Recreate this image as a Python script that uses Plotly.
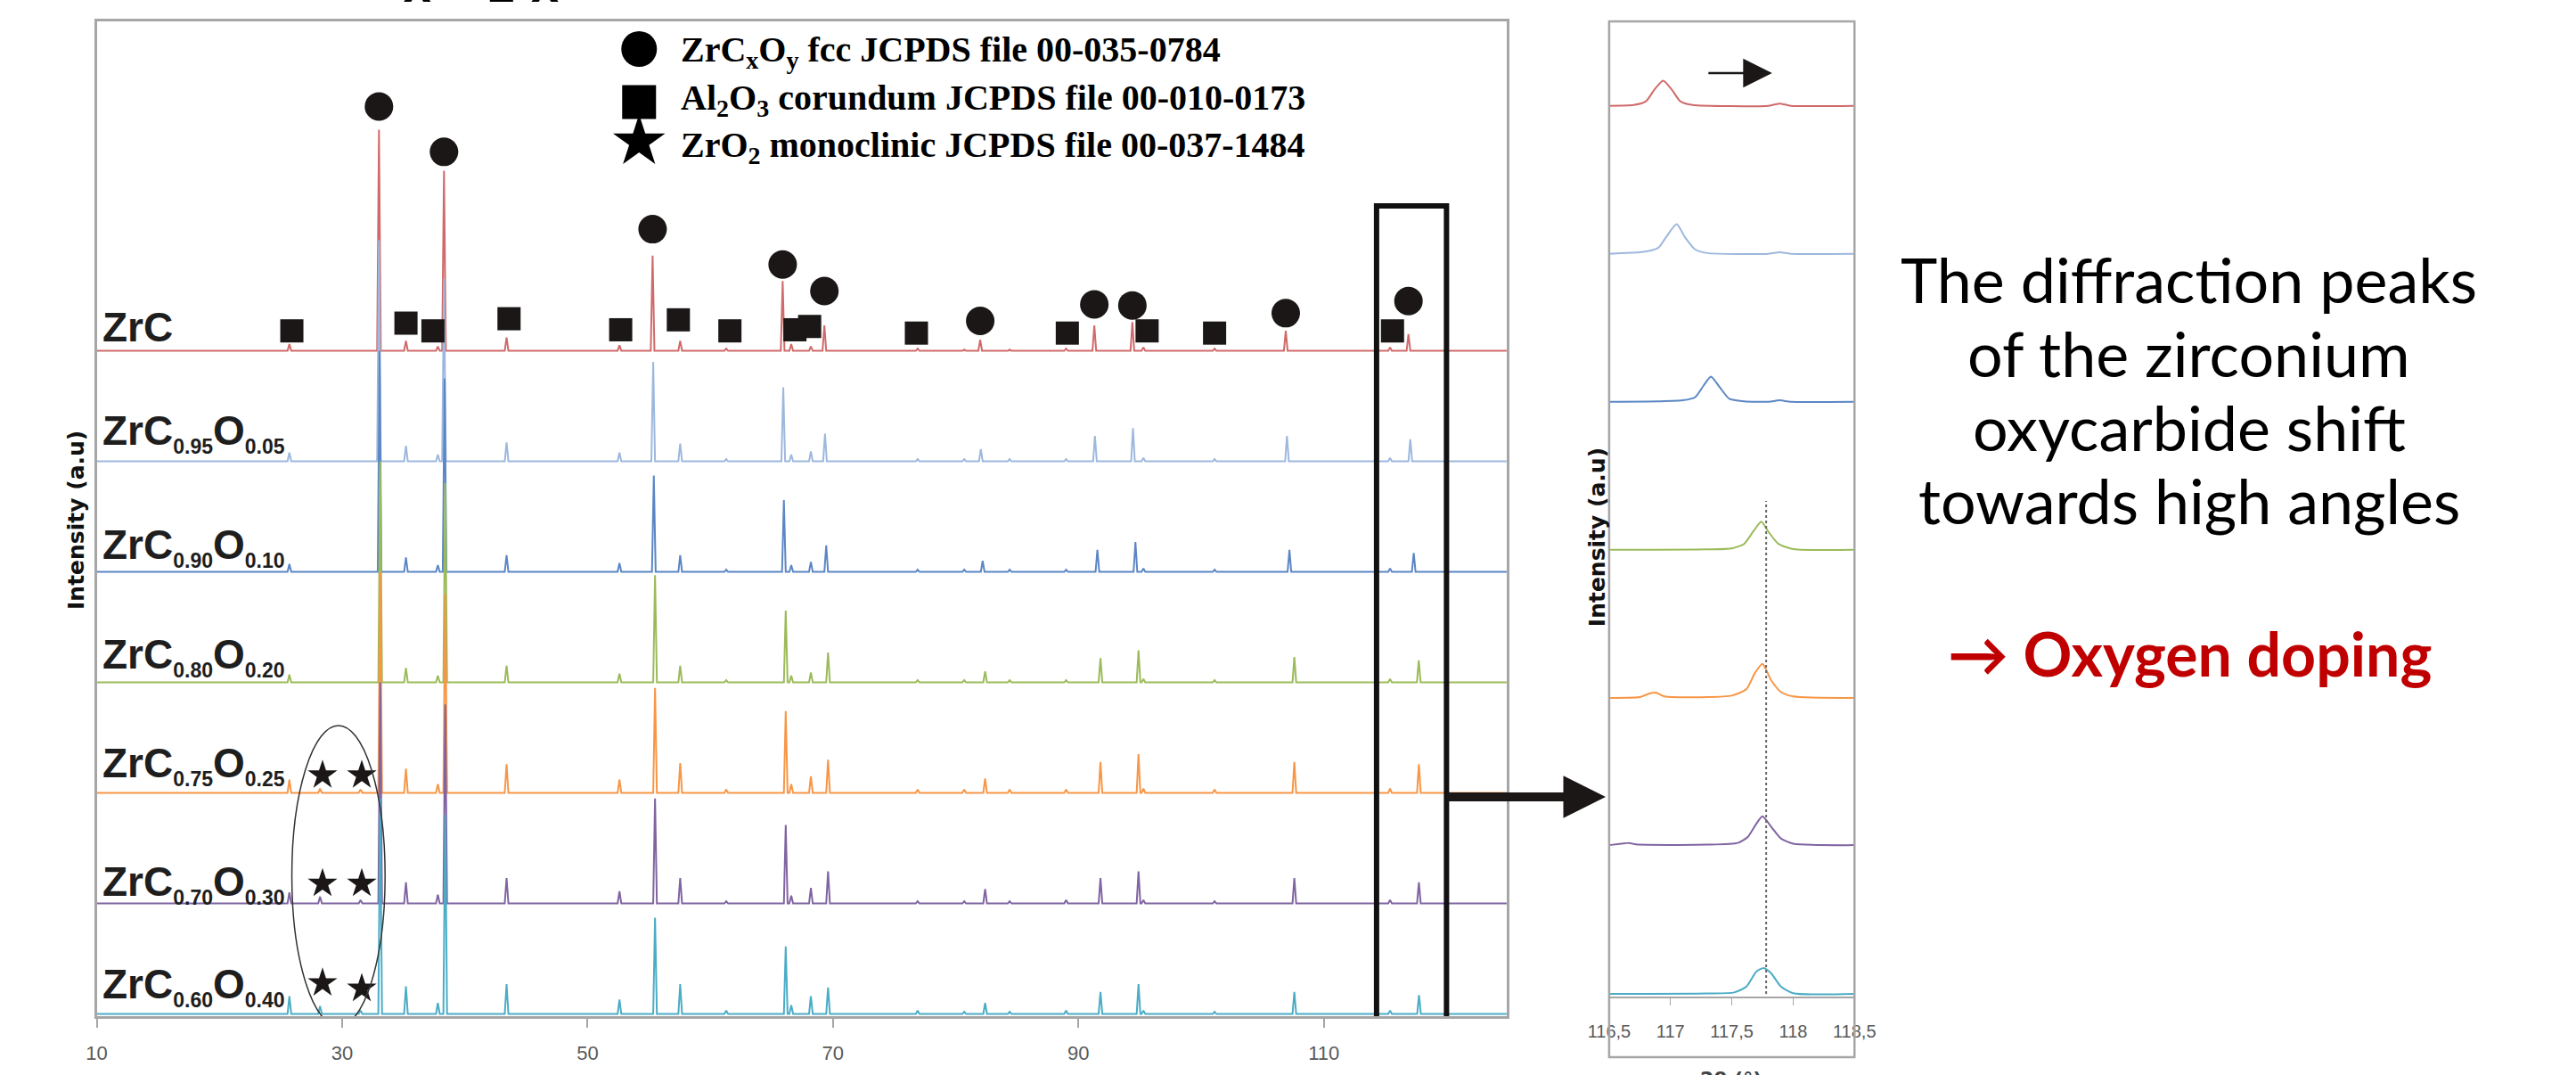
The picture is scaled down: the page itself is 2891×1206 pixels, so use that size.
import plotly.graph_objects as go

W, H = 2891, 1206

# ---------------- data ----------------
label_c = ["", "0.95", "0.90", "0.80", "0.75", "0.70", "0.60"]
label_o = ["", "0.05", "0.10", "0.20", "0.25", "0.30", "0.40"]
series_offset = [6, 5, 4, 3, 2, 1, 0]
series_colors = ["#D06A6A", "#9DB8DE", "#5B86C5", "#9BBB59", "#F79646", "#8064A2", "#4BACC6"]

# ZrCxOy fcc reflections (2theta) per sample, and their heights (a.u.)
fcc_positions = [
    [33.0, 38.3, 55.3, 65.9, 69.3, 82.0, 91.3, 94.4, 106.9, 116.9],
    [33.0, 38.3, 55.35, 65.95, 69.35, 82.05, 91.35, 94.45, 107.0, 117.05],
    [33.05, 38.35, 55.4, 66.0, 69.45, 82.2, 91.55, 94.65, 107.2, 117.33],
    [33.1, 38.4, 55.5, 66.15, 69.6, 82.4, 91.8, 94.9, 107.6, 117.74],
    [33.1, 38.4, 55.5, 66.15, 69.6, 82.4, 91.8, 94.9, 107.6, 117.75],
    [33.1, 38.4, 55.5, 66.15, 69.6, 82.4, 91.8, 94.9, 107.6, 117.75],
    [33.1, 38.4, 55.5, 66.15, 69.6, 82.4, 91.8, 94.9, 107.6, 117.76],
]
fcc_heights = [
    [2.0, 1.63, 0.86, 0.63, 0.23, 0.10, 0.23, 0.26, 0.18, 0.15],
    [2.0, 1.65, 0.90, 0.67, 0.25, 0.11, 0.23, 0.30, 0.23, 0.20],
    [2.0, 1.75, 0.87, 0.65, 0.24, 0.10, 0.20, 0.27, 0.20, 0.17],
    [2.0, 1.80, 0.97, 0.65, 0.27, 0.10, 0.22, 0.29, 0.23, 0.20],
    [2.0, 1.80, 0.95, 0.74, 0.30, 0.13, 0.28, 0.35, 0.28, 0.26],
    [2.0, 1.80, 0.95, 0.71, 0.29, 0.13, 0.23, 0.29, 0.23, 0.19],
    [1.95, 1.80, 0.87, 0.61, 0.24, 0.10, 0.20, 0.27, 0.20, 0.17],
]
# Al2O3 corundum reflections
al2o3_positions = [25.7, 35.2, 37.8, 43.4, 52.6, 57.55, 61.3, 66.6, 68.2, 76.9, 80.7, 84.4, 89.0, 95.3, 101.1, 115.4]
al2o3_heights = [
    [0.06, 0.09, 0.04, 0.12, 0.05, 0.09, 0.02, 0.06, 0.04, 0.02, 0.01, 0.01, 0.02, 0.03, 0.02, 0.03],
    [0.08, 0.14, 0.06, 0.17, 0.08, 0.16, 0.02, 0.06, 0.09, 0.02, 0.02, 0.02, 0.02, 0.03, 0.02, 0.03],
    [0.07, 0.13, 0.06, 0.15, 0.08, 0.15, 0.02, 0.06, 0.09, 0.02, 0.02, 0.02, 0.02, 0.03, 0.02, 0.03],
    [0.07, 0.13, 0.06, 0.15, 0.08, 0.15, 0.02, 0.06, 0.09, 0.02, 0.02, 0.02, 0.02, 0.03, 0.02, 0.03],
    [0.12, 0.22, 0.08, 0.26, 0.12, 0.27, 0.03, 0.08, 0.15, 0.03, 0.03, 0.03, 0.03, 0.04, 0.03, 0.04],
    [0.10, 0.19, 0.08, 0.23, 0.11, 0.23, 0.02, 0.07, 0.14, 0.02, 0.02, 0.02, 0.03, 0.03, 0.02, 0.03],
    [0.16, 0.25, 0.10, 0.27, 0.13, 0.27, 0.03, 0.08, 0.16, 0.03, 0.02, 0.02, 0.03, 0.03, 0.02, 0.03],
]
# ZrO2 monoclinic reflections
zro2_positions = [28.2, 31.5]
zro2_heights = [[0, 0], [0, 0], [0, 0], [0, 0], [0.04, 0.03], [0.06, 0.03], [0.07, 0.03]]

# phase markers
circle_x = [33.0, 38.3, 55.3, 65.9, 69.3, 82.0, 91.3, 94.4, 106.9, 116.9]
circle_y = [8.21, 7.80, 7.10, 6.78, 6.54, 6.27, 6.42, 6.41, 6.34, 6.45]
square_x = [25.9, 35.2, 37.4, 43.6, 52.7, 57.4, 61.6, 66.9, 68.1, 76.8, 89.1, 95.6, 101.1, 115.6]
square_y = [6.18, 6.25, 6.18, 6.29, 6.19, 6.28, 6.18, 6.19, 6.22, 6.16, 6.16, 6.18, 6.16, 6.18]
star_x = [28.4, 31.6, 28.4, 31.6, 28.4, 31.6]
star_y = [2.16, 2.16, 1.18, 1.18, 0.28, 0.23]

x_ticks = [10, 30, 50, 70, 90, 110]

# inset (116.5-118.5 deg), profile vertices per sample
inset_x = [
    [116.5, 116.7, 116.8, 116.87, 116.94, 117.01, 117.08, 117.18, 117.8, 117.89, 117.98, 118.5],
    [116.5, 116.6, 116.75, 116.9, 116.97, 117.05, 117.12, 117.2, 117.3, 117.8, 117.89, 117.98, 118.5],
    [116.5, 116.9, 117.1, 117.2, 117.27, 117.33, 117.4, 117.48, 117.6, 117.8, 117.89, 117.98, 118.5],
    [116.5, 117.3, 117.5, 117.6, 117.68, 117.74, 117.8, 117.88, 118.0, 118.5],
    [116.5, 116.75, 116.83, 116.88, 116.95, 117.3, 117.5, 117.62, 117.69, 117.75, 117.82, 117.9, 118.0, 118.5],
    [116.5, 116.6, 116.66, 116.72, 117.3, 117.55, 117.63, 117.7, 117.75, 117.82, 117.9, 118.0, 118.5],
    [116.5, 117.3, 117.52, 117.62, 117.7, 117.76, 117.82, 117.9, 118.0, 118.5],
]
inset_y = [
    [0, 0.005, 0.03, 0.11, 0.17, 0.11, 0.03, 0.005, 0, 0.015, 0, 0],
    [0, 0.005, 0.01, 0.04, 0.12, 0.20, 0.11, 0.03, 0.005, 0, 0.01, 0, 0],
    [0, 0.003, 0.01, 0.03, 0.11, 0.17, 0.10, 0.02, 0.003, 0, 0.01, 0, 0],
    [0, 0.003, 0.01, 0.04, 0.13, 0.19, 0.12, 0.04, 0.005, 0],
    [0, 0.005, 0.03, 0.035, 0.01, 0.005, 0.015, 0.06, 0.17, 0.23, 0.12, 0.04, 0.01, 0],
    [0.005, 0.015, 0.02, 0.01, 0.008, 0.02, 0.06, 0.15, 0.20, 0.13, 0.05, 0.015, 0.005],
    [0, 0.003, 0.01, 0.05, 0.15, 0.175, 0.14, 0.05, 0.005, 0],
]
inset_offset = [6, 5, 4, 3, 2, 1, 0]
inset_ticks = [116.5, 117, 117.5, 118, 118.5]
inset_ticktext = ["116,5", "117", "117,5", "118", "118,5"]
ref_line_2theta = 117.78

legend_texts = [
    "ZrC<sub>x</sub>O<sub>y</sub> fcc JCPDS file 00-035-0784",
    "Al<sub>2</sub>O<sub>3</sub> corundum JCPDS file 00-010-0173",
    "ZrO<sub>2</sub> monoclinic JCPDS file 00-037-1484",
]
note_lines = ["The diffraction peaks", "of the zirconium", "oxycarbide shift", "towards high angles"]


# ---------------- helpers ----------------
def px(x):
    return x / W


def py(y):
    return 1 - y / H


def stick_profile(peaks, offset, xmin=10.0, xmax=125.0, hw=0.15):
    peaks = sorted([p for p in peaks if p[1] > 0])
    xs, ys = [xmin], [offset]
    for p, h in peaks:
        xs += [p - hw, p, p + hw]
        ys += [offset, offset + h, offset]
    xs.append(xmax)
    ys.append(offset)
    return xs, ys


fig = go.Figure()

# main diffractograms (top sample drawn first)
for i in range(7):
    peaks = list(zip(fcc_positions[i], fcc_heights[i]))
    peaks += list(zip(al2o3_positions, al2o3_heights[i]))
    peaks += list(zip(zro2_positions, zro2_heights[i]))
    xs, ys = stick_profile(peaks, series_offset[i])
    fig.add_trace(go.Scatter(x=xs, y=ys, mode="lines",
                             line=dict(color=series_colors[i], width=2),
                             xaxis="x", yaxis="y", showlegend=False, hoverinfo="skip"))

mk = "#1a1716"
fig.add_trace(go.Scatter(x=circle_x, y=circle_y, mode="markers",
                         marker=dict(symbol="circle", size=32, color=mk),
                         xaxis="x", yaxis="y", showlegend=False, hoverinfo="skip"))
fig.add_trace(go.Scatter(x=square_x, y=square_y, mode="markers",
                         marker=dict(symbol="square", size=26, color=mk),
                         xaxis="x", yaxis="y", showlegend=False, hoverinfo="skip"))
fig.add_trace(go.Scatter(x=star_x, y=star_y, mode="markers",
                         marker=dict(symbol="star", size=25, color=mk),
                         xaxis="x", yaxis="y", showlegend=False, hoverinfo="skip"))

# legend symbols
fig.add_trace(go.Scatter(x=[54.2], y=[8.73], mode="markers",
                         marker=dict(symbol="circle", size=40, color="#000"),
                         xaxis="x", yaxis="y", showlegend=False, hoverinfo="skip"))
fig.add_trace(go.Scatter(x=[54.2], y=[8.25], mode="markers",
                         marker=dict(symbol="square", size=38, color="#000"),
                         xaxis="x", yaxis="y", showlegend=False, hoverinfo="skip"))
fig.add_trace(go.Scatter(x=[54.2], y=[7.89], mode="markers",
                         marker=dict(symbol="star", size=44, color="#000"),
                         xaxis="x", yaxis="y", showlegend=False, hoverinfo="skip"))

# inset profiles
for i in range(7):
    fig.add_trace(go.Scatter(x=inset_x[i], y=[v + inset_offset[i] for v in inset_y[i]],
                             mode="lines", line=dict(color=series_colors[i], width=2, shape="spline", smoothing=0.6),
                             xaxis="x2", yaxis="y2", showlegend=False, hoverinfo="skip"))

axis_grey = "#A6A6A6"
tick_font = dict(family="Liberation Sans, Arial, sans-serif", size=22, color="#595959")

fig.update_layout(
    width=W, height=H, autosize=False,
    margin=dict(l=0, r=0, t=0, b=0),
    paper_bgcolor="white", plot_bgcolor="white",
    xaxis=dict(domain=[px(86), px(1695)], range=[10, 124.9], anchor="y",
               showline=True, mirror=True, linecolor=axis_grey, linewidth=2.5,
               ticks="outside", ticklen=10, tickcolor=axis_grey, tickwidth=1.5,
               tickvals=x_ticks, tickfont=tick_font, ticklabelstandoff=10,
               showgrid=False, zeroline=False),
    yaxis=dict(domain=[py(1140), py(24)], range=[-0.02, 8.98], anchor="x",
               showline=True, mirror=True, linecolor=axis_grey, linewidth=2.5,
               showticklabels=False, ticks="", showgrid=False, zeroline=False),
    xaxis2=dict(domain=[px(1812), px(2092)], range=[116.5, 118.5], anchor="y2",
                showline=True, linecolor=axis_grey, linewidth=2,
                ticks="outside", ticklen=8, tickcolor=axis_grey,
                tickvals=inset_ticks, ticktext=inset_ticktext,
                tickfont=dict(family="Liberation Sans, Arial, sans-serif", size=20, color="#595959"),
                ticklabelstandoff=12, showgrid=False, zeroline=False),
    yaxis2=dict(domain=[py(1118), py(24)], range=[-0.018, 6.57], anchor="x2",
                visible=False, showgrid=False, zeroline=False),
)

shapes = []
shapes.append(dict(type="circle", xref="x", yref="y", x0=25.9, x1=33.5, y0=-0.11, y1=2.61,
                   line=dict(color="#333333", width=1.5)))
shapes.append(dict(type="rect", xref="x", yref="y", x0=114.3, x1=120.0, y0=-0.07, y1=7.31,
                   line=dict(color="#111111", width=6)))
shapes.append(dict(type="rect", xref="paper", yref="paper", x0=px(1812), x1=px(2092), y0=py(1186), y1=py(24),
                   line=dict(color=axis_grey, width=2.5)))
shapes.append(dict(type="line", xref="x2", yref="y2", x0=ref_line_2theta, x1=ref_line_2theta, y0=0, y1=3.33,
                   line=dict(color="#666666", width=2, dash="dot")))
fig.update_layout(shapes=shapes)

ann = []
sub_style = "font-size:23px"
label_base = [383, 497, 625, 748, 870, 1003, 1118]
for i in range(7):
    if label_c[i]:
        txt = ("ZrC<sub><span style='%s'>%s</span></sub>O<sub><span style='%s'>%s</span></sub>"
               % (sub_style, label_c[i], sub_style, label_o[i]))
        ycen = label_base[i] - 12
    else:
        txt = "ZrC"
        ycen = label_base[i] - 16
    ann.append(dict(text=txt, xref="paper", yref="paper", x=px(90), y=py(ycen),
                    xanchor="left", yanchor="middle", showarrow=False,
                    font=dict(family="Liberation Sans, Arial, sans-serif", size=46, color="#1e1e1e",
                              weight="bold")))

for t, yc in zip(legend_texts, [58, 112, 165]):
    ann.append(dict(text=t, xref="paper", yref="paper", x=px(750), y=py(yc),
                    xanchor="left", yanchor="middle", showarrow=False,
                    font=dict(family="Liberation Serif, Times New Roman, serif", size=40, color="#000",
                              weight="bold")))

# axis titles
for xx, yy in [(62, 583), (1798, 603)]:
    ann.append(dict(text="Intensity (a.u)", xref="paper", yref="paper", x=px(xx), y=py(yy),
                    textangle=-90, showarrow=False, xanchor="center", yanchor="middle",
                    font=dict(family="DejaVu Sans, Verdana, sans-serif", size=25, color="#111",
                              weight="bold")))
for xx, yy in [(883, 1201), (1951, 1196)]:
    ann.append(dict(text="2θ (°)", xref="paper", yref="paper", x=px(xx), y=py(yy),
                    showarrow=False, xanchor="center", yanchor="top",
                    font=dict(family="DejaVu Sans, Verdana, sans-serif", size=22, color="#444",
                              weight="bold")))

# cut-off title at the very top edge
ann.append(dict(text="ZrC<sub>x</sub>O<sub>1-x</sub>", xref="paper", yref="paper", x=px(294), y=py(16),
                showarrow=False, xanchor="left", yanchor="bottom",
                font=dict(family="Liberation Sans, Arial, sans-serif", size=80, color="#000", weight="bold")))

# big arrow from zoom box to inset
ann.append(dict(text="", xref="paper", yref="paper", x=px(1808), y=py(894), ax=-180, ay=0,
                showarrow=True, arrowhead=2, arrowsize=0.95, arrowwidth=10, arrowcolor=mk, standoff=0))
# small arrow in inset
ann.append(dict(text="", xref="paper", yref="paper", x=px(1998), y=py(82), ax=-73, ay=0,
                showarrow=True, arrowhead=2, arrowsize=2.6, arrowwidth=2.5, arrowcolor=mk, standoff=0))

# explanatory text
for t, base in zip(note_lines, [340, 423, 506, 588]):
    ann.append(dict(text=t, xref="paper", yref="paper", x=px(2474), y=py(base - 27),
                    xanchor="center", yanchor="middle", showarrow=False,
                    font=dict(family="Lato, Open Sans, sans-serif", size=70, color="#000")))
ann.append(dict(text="→ Oxygen doping", xref="paper", yref="paper", x=px(2475), y=py(732),
                xanchor="center", yanchor="middle", showarrow=False,
                font=dict(family="Lato, Open Sans, sans-serif", size=68, color="#C00000", weight="bold")))

fig.update_layout(annotations=ann)

fig.write_html("out.html", config={"displayModeBar": False},
               post_script="document.body.style.margin='0';document.body.style.overflow='hidden';")
